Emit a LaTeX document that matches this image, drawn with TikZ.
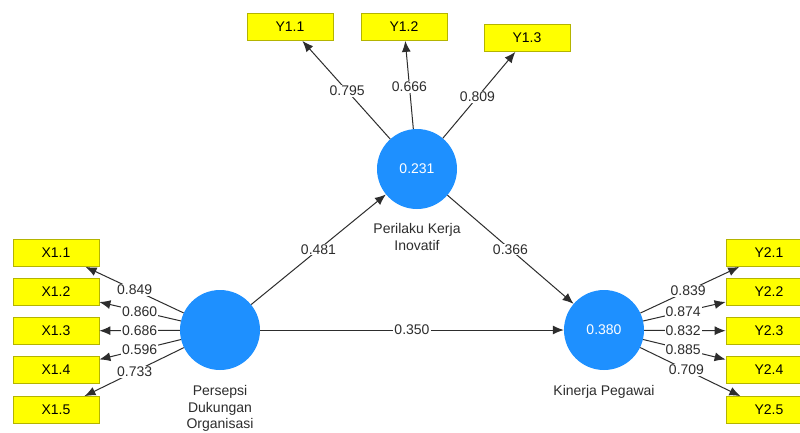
\documentclass[tikz,border=0pt]{standalone}
\usepackage{fontspec}
\setmainfont{Liberation Sans}
\usetikzlibrary{arrows.meta,calc}
\definecolor{lvblue}{RGB}{30,144,255}
\definecolor{boxyellow}{RGB}{255,255,0}
\definecolor{boxedge}{RGB}{180,180,0}
\definecolor{txt}{RGB}{45,45,45}
\begin{document}
\begin{tikzpicture}[x=1pt,y=-1pt,
  every node/.style={font=\fontsize{14}{16.5}\selectfont},
  latent/.style={circle,fill=lvblue,draw=none,minimum size=80pt,inner sep=0pt,text=white},
  ind/.style={rectangle,fill=boxyellow,draw=boxedge,line width=0.8pt,minimum width=86pt,minimum height=27pt,inner sep=0pt,text=black},
  conn/.style={draw=txt,line width=1pt,-{Latex[length=11pt,width=9pt]}},
  wlabel/.style={fill=white,inner sep=1pt,text=txt},
  caption/.style={align=center,text=txt,anchor=north}]
\useasboundingbox (0,0) rectangle (800,432);
\clip (0,0) rectangle (800,432);
\fill[white] (0,0) rectangle (800,432);

% latent variables
\node[latent] (pdo) at (220,330) {};
\node[latent] (pki) at (417,169) {0.231};
\node[latent] (kp) at (604,330) {0.380};

\node[caption] (pdol) at (220,382) {Persepsi\\Dukungan\\Organisasi};
\node[caption] (pkil) at (417,220) {Perilaku Kerja\\Inovatif};
\node[caption] (kpl) at (604,382) {Kinerja Pegawai};

% indicators
\node[ind] (x11) at (56,253) {X1.1};
\node[ind] (x12) at (56,292) {X1.2};
\node[ind] (x13) at (56,331) {X1.3};
\node[ind] (x14) at (56,370) {X1.4};
\node[ind] (x15) at (56,410) {X1.5};

\node[ind] (y11) at (290,27) {Y1.1};
\node[ind] (y12) at (404,27) {Y1.2};
\node[ind] (y13) at (527,38) {Y1.3};

\node[ind] (y21) at (769,253) {Y2.1};
\node[ind] (y22) at (769,292) {Y2.2};
\node[ind] (y23) at (769,331) {Y2.3};
\node[ind] (y24) at (769,370) {Y2.4};
\node[ind] (y25) at (769,410) {Y2.5};

% outer loadings
\draw[conn] (pdo) -- (x11);
\draw[conn] (pdo) -- (x12);
\draw[conn] (pdo) -- (x13);
\draw[conn] (pdo) -- (x14);
\draw[conn] (pdo) -- (x15);
\node[wlabel] (lx11) at ($(pdo)!0.52!(x11)$) {0.849};
\node[wlabel] (lx12) at ($(pdo)!0.49!(x12)$) {0.860};
\node[wlabel] (lx13) at ($(pdo)!0.49!(x13)$) {0.686};
\node[wlabel] (lx14) at ($(pdo)!0.49!(x14)$) {0.596};
\node[wlabel] (lx15) at ($(pdo)!0.52!(x15)$) {0.733};

\draw[conn] (pki) -- (y11);
\draw[conn] (pki) -- (y12);
\draw[conn] (pki) -- (y13);
\node[wlabel] (ly11) at ($(pki)!0.55!(y11)$) {0.795};
\node[wlabel] (ly12) at ($(pki)!0.58!(y12)$) {0.666};
\node[wlabel] (ly13) at ($(pki)!0.55!(y13)$) {0.809};

\draw[conn] (kp) -- (y21);
\draw[conn] (kp) -- (y22);
\draw[conn] (kp) -- (y23);
\draw[conn] (kp) -- (y24);
\draw[conn] (kp) -- (y25);
\node[wlabel] (ly21) at ($(kp)!0.51!(y21)$) {0.839};
\node[wlabel] (ly22) at ($(kp)!0.48!(y22)$) {0.874};
\node[wlabel] (ly23) at ($(kp)!0.48!(y23)$) {0.832};
\node[wlabel] (ly24) at ($(kp)!0.48!(y24)$) {0.885};
\node[wlabel] (ly25) at ($(kp)!0.50!(y25)$) {0.709};

% structural paths
\draw[conn] (pdo) -- (pki);
\draw[conn] (pki) -- (kp);
\draw[conn] (pdo) -- (kp);
\node[wlabel] (p1) at ($(pdo)!0.5!(pki)$) {0.481};
\node[wlabel] (p2) at ($(pki)!0.5!(kp)$) {0.366};
\node[wlabel] (p3) at ($(pdo)!0.5!(kp)$) {0.350};
\end{tikzpicture}
\end{document}
